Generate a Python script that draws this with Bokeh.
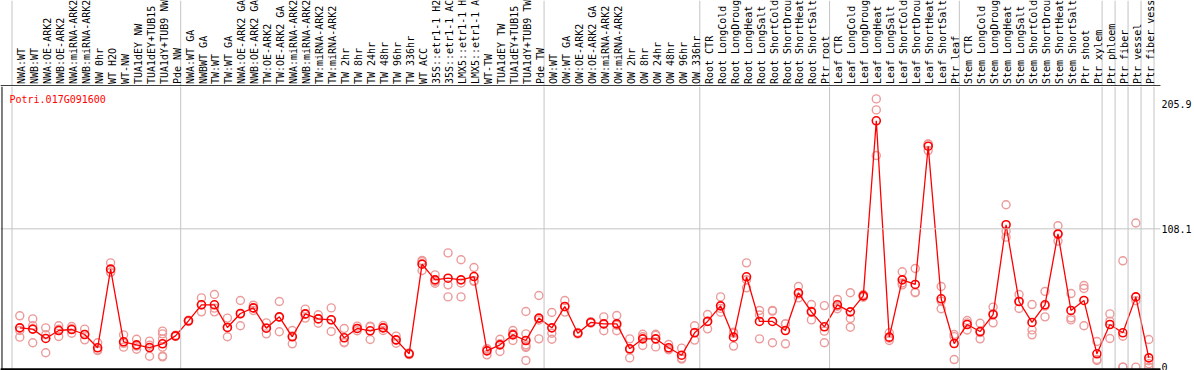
import math
from bokeh.plotting import figure
from bokeh.layouts import column
from bokeh.models import Span, Label, LinearAxis, FixedTicker, Range1d, BoxAnnotation
from bokeh.core.properties import value
from bokeh.embed import file_html
from bokeh.resources import INLINE

gene = "Potri.017G091600"

categories = [
    "NWA:WT", "NWB:WT", "NWA:OE-ARK2", "NWB:OE-ARK2", "NWA:miRNA-ARK2", "NWB:miRNA-ARK2",
    "NW 0hr", "WT H2O", "WT-NW", "TUA1dEY NW", "TUA1dEY+TUB15 NW", "TUA1dY+TUB9 NW", "Pde NW",
    "NWA:WT GA", "NWBWT GA", "TW:WT", "TW:WT GA", "NWA:OE-ARK2 GA", "NWB:OE-ARK2 GA",
    "TW:OE-ARK2", "TW:OE-ARK2 GA", "NWA:miRNA-ARK2", "NWB:miRNA-ARK2", "TW:miRNA-ARK2",
    "TW:miRNA-ARK2", "TW 2hr", "TW 8hr", "TW 24hr", "TW 48hr", "TW 96hr", "TW 336hr",
    "WT ACC", "35S::etr1-1 H2O", "35S::etr1-1 ACC", "LMX5::etr1-1 H2O", "LMX5::etr1-1 ACC",
    "WT-TW", "TUA1dEY TW", "TUA1dEY+TUB15 TW", "TUA1dY+TUB9 TW", "Pde TW",
    "OW:WT", "OW:WT GA", "OW:OE-ARK2", "OW:OE-ARK2 GA", "OW:miRNA-ARK2", "OW:miRNA-ARK2",
    "OW 2hr", "OW 8hr", "OW 24hr", "OW 48hr", "OW 96hr", "OW 336hr",
    "Root CTR", "Root LongCold", "Root LongDrought", "Root LongHeat", "Root LongSalt",
    "Root ShortCold", "Root ShortDrought", "Root ShortHeat", "Root ShortSalt", "Ptr root",
    "Leaf CTR", "Leaf LongCold", "Leaf LongDrought", "Leaf LongHeat", "Leaf LongSalt",
    "Leaf ShortCold", "Leaf ShortDrought", "Leaf ShortHeat", "Leaf ShortSalt", "Ptr leaf",
    "Stem CTR", "Stem LongCold", "Stem LongDrought", "Stem LongHeat", "Stem LongSalt",
    "Stem ShortCold", "Stem ShortDrought", "Stem ShortHeat", "Stem ShortSalt", "Ptr shoot",
    "Ptr xylem", "Ptr phloem", "Ptr fiber", "Ptr vessel", "Ptr fiber vessel",
]

means = [
    30.7, 29.7, 22.4, 28.6, 29.4, 25.5, 15.1, 76.6, 19.8, 17.4, 15.3, 18.2, 24.4,
    36.2, 48.7, 48.7, 31.0, 41.9, 46.3, 30.4, 39.3, 23.7, 41.6, 37.7, 37.0, 22.9,
    30.2, 28.4, 30.7, 21.3, 10.4, 80.5, 68.2, 69.5, 68.2, 70.8, 12.7, 17.4, 25.2,
    20.8, 38.3, 30.7, 47.4, 26.5, 34.9, 33.8, 33.8, 14.3, 22.1, 22.1, 15.1, 9.3,
    26.8, 35.7, 47.9, 23.4, 70.6, 35.7, 35.7, 28.6, 58.1, 43.2, 31.5, 48.7, 43.2,
    55.7, 192.6, 23.4, 68.2, 64.6, 172.7, 53.4, 18.4, 33.3, 27.8, 41.1, 111.3,
    51.3, 34.9, 48.7, 104.2, 44.3, 52.1, 10.4, 33.3, 26.8, 54.9, 7.2,
]

replicates = [
    [40.1, 28.6, 23.4], [37.7, 32.4, 19.0], [30.7, 25.3, 11.2], [32.3, 29.6, 23.9],
    [31.7, 30.0, 26.5], [29.7, 25.5, 21.3], [19.0, 13.3, 13.0], [81.5, 74.2, 74.1],
    [25.2, 18.6, 15.6], [21.8, 16.4, 14.0], [20.3, 17.1, 8.5],
    [28.1, 26.0, 22.1, 15.6, 8.6, 8.0], [24.9, 24.4, 23.9], [36.7, 36.2, 35.7],
    [54.1, 48.8, 43.2], [56.8, 46.1, 43.2], [38.3, 31.0, 23.7], [52.1, 41.3, 32.3],
    [48.4, 46.2, 44.3], [34.6, 30.6, 26.0], [51.3, 39.0, 27.6], [28.6, 24.3, 18.2],
    [45.3, 41.2, 38.3], [40.9, 37.9, 34.3], [46.3, 36.9, 27.8], [30.2, 19.5, 19.0],
    [32.0, 30.2, 28.4], [32.0, 31.6, 21.6], [32.5, 30.9, 28.6], [24.2, 21.0, 18.7],
    [11.0, 10.4, 9.8], [83.4, 82.6, 75.5], [72.1, 66.9, 65.6], [89.3, 64.3, 54.9],
    [83.9, 65.8, 54.9], [77.9, 67.6, 66.9], [14.3, 14.2, 9.6], [21.8, 18.2, 12.2],
    [28.6, 26.2, 20.8], [43.5, 26.0, 17.4, 16.1, 15.3, 5.2], [56.0, 36.8, 22.1],
    [42.7, 26.5, 21.8], [52.1, 47.1, 43.0], [27.0, 26.5, 26.0], [35.4, 34.9, 34.4],
    [39.3, 33.7, 28.4], [40.3, 32.7, 28.4], [22.1, 13.6, 7.2], [25.7, 23.7, 16.9],
    [25.7, 24.8, 15.8], [17.7, 14.0, 13.6], [14.8, 6.9, 6.2], [32.3, 27.0, 21.1],
    [41.1, 36.1, 29.9], [54.9, 45.9, 42.9], [27.3, 26.5, 16.4], [81.5, 68.3, 62.0],
    [44.3, 40.7, 22.1], [44.3, 43.8, 19.0], [33.8, 33.8, 18.2], [63.0, 57.2, 54.1],
    [48.9, 43.8, 36.9], [48.1, 28.1, 19.0], [52.9, 47.6, 45.6], [58.1, 38.0, 31.2],
    [56.8, 55.7, 54.6], [209.7, 201.1, 165.4], [26.8, 22.6, 20.8], [74.5, 65.8, 64.3],
    [77.1, 58.6, 58.1], [174.5, 174.3, 169.3], [63.0, 51.6, 45.6], [25.5, 23.8, 5.9],
    [36.4, 34.6, 29.0], [34.3, 27.0, 22.1], [46.9, 41.8, 34.6], [126.9, 106.3, 101.6],
    [56.8, 51.3, 45.8], [48.9, 29.1, 25.2], [59.1, 47.7, 39.3], [110.5, 103.6, 98.5],
    [57.5, 38.5, 36.9], [63.8, 61.5, 32.3], [20.0, 6.0, 5.2], [41.6, 35.9, 22.4],
    [83.1, 24.1, 0.0, 0.0], [112.7, 52.0, 0.0], [21.6, 5.0, 2.6, 0.0],
]

# group boundaries: a separator is drawn after each of these category indices
group_ends = [-1, 12, 40, 52, 62, 72, 83, 84, 85, 86, 87]
y_ticks = [0, 108.1, 205.9]

# ---------------- layout ----------------
FONT = "DejaVu Sans Mono"
W = 1194
H_TOP = 86
H_MAIN = 284
AXIS_W = 32
frame_w = W - AXIS_W
x_start, x_end = -1.485, 87.9
px_per_x = frame_w / (x_end - x_start)
y_start, y_end = -2.66, 219.4
px_per_y = H_MAIN / (y_end - y_start)
GRAY = "#c4c4c4"

idx = list(range(len(categories)))
xr = Range1d(x_start, x_end)

# ---- top (labels) figure: same frame geometry as the main figure ----
t = figure(width=W, height=H_TOP, x_range=xr,
           y_range=Range1d(0, H_TOP), x_axis_location=None, y_axis_location=None,
           output_backend="svg", toolbar_location=None,
           min_border_left=0, min_border_right=AXIS_W, min_border_top=0, min_border_bottom=0)
t.xgrid.visible = False
t.ygrid.visible = False
t.outline_line_color = None
t.title.visible = False
sep_x = [g + 0.4 for g in group_ends]
t.segment(x0=sep_x, y0=[0] * len(sep_x), x1=sep_x, y1=[H_TOP] * len(sep_x),
          line_color=GRAY, line_width=1)
t.text(x=[i + 0.12 for i in idx], y=[2.5] * len(idx), text=categories, angle=math.pi / 2,
       text_align="left", text_baseline="middle",
       text_font=value(FONT), text_font_size=value("10px"), text_color="black")
t.add_layout(Span(location=0.5, dimension="width", line_color="black", line_width=1))
# black rule continuing across the tick-label strip on the right
t.add_layout(BoxAnnotation(left=x_start, right=W, right_units="screen",
                           bottom=0, top=1, fill_color="black", fill_alpha=1.0,
                           line_color=None))

# ---- main figure ----
p = figure(width=W, height=H_MAIN, x_range=xr,
           y_range=Range1d(y_start, y_end), x_axis_location=None, y_axis_location=None,
           output_backend="svg", toolbar_location=None,
           min_border_left=0, min_border_right=AXIS_W, min_border_top=0, min_border_bottom=0)
p.xgrid.visible = False
p.ygrid.visible = False
p.outline_line_color = None
p.title.visible = False

yax = LinearAxis(ticker=FixedTicker(ticks=y_ticks),
                 major_label_overrides={t_: ("0" if t_ == 0 else str(t_)) for t_ in y_ticks})
yax.axis_line_color = None
yax.major_tick_line_color = None
yax.minor_tick_line_color = None
yax.major_tick_out = 0
yax.major_tick_in = 0
yax.major_label_standoff = 1
yax.major_label_text_font = FONT
yax.major_label_text_font_size = "10px"
yax.major_label_text_color = "black"
p.add_layout(yax, "right")

for sx in sep_x:
    p.add_layout(Span(location=sx, dimension="height", line_color=GRAY, line_width=1))
p.add_layout(Span(location=y_ticks[1], dimension="width", line_color=GRAY, line_width=1))
p.add_layout(Span(location=x_start + 1.5 / px_per_x, dimension="height",
                  line_color="black", line_width=1))
p.add_layout(Span(location=y_start + 1.0 / px_per_y, dimension="width",
                  line_color="black", line_width=2))
p.add_layout(BoxAnnotation(left=x_start, right=W, right_units="screen",
                           bottom=y_start, top=y_start + 2.0 / px_per_y,
                           fill_color="black", fill_alpha=1.0, line_color=None))

rx, ry = [], []
for i, reps in enumerate(replicates):
    for v in reps:
        rx.append(i)
        ry.append(v)
p.scatter(rx, ry, marker="circle", size=8, fill_color=None,
          line_color="#ec9a9a", line_width=1.4)
p.line(idx, means, line_color="red", line_width=1.3)
p.scatter(idx, means, marker="circle", size=8, fill_color=None,
          line_color="red", line_width=1.6)

p.add_layout(Label(x=x_start + 9.0 / px_per_x, y=213.9, text=gene,
                   text_color="red", text_font=FONT, text_font_size="10px",
                   text_baseline="top", text_align="left"))

layout = column(t, p, spacing=0)
open("out.html", "w").write(file_html(layout, INLINE))
